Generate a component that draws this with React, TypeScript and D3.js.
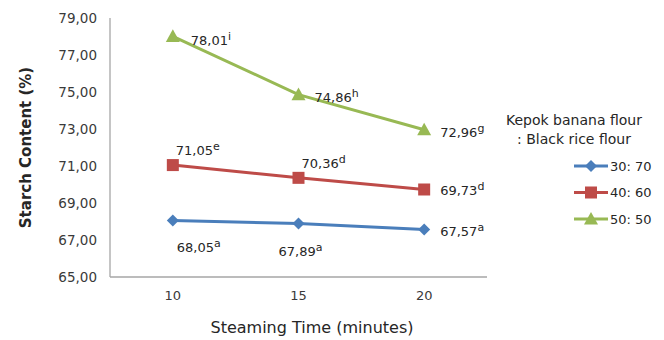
import React from "react";
import * as d3 from "d3";

// Steaming time categories (minutes)
const categories = ["10", "15", "20"];

// Starch content (%) per flour ratio
const ratio3070 = [68.05, 67.89, 67.57];
const ratio4060 = [71.05, 70.36, 69.73];
const ratio5050 = [78.01, 74.86, 72.96];

// Significance letters shown next to each value
const letters3070 = ["a", "a", "a"];
const letters4060 = ["e", "d", "d"];
const letters5050 = ["i", "h", "g"];

const seriesNames = ["30:70", "40:60", "50:50"];
const yTicks = [65, 67, 69, 71, 73, 75, 77, 79];

const W = 664;
const H = 340;
const plot = { left: 110, right: 487, top: 18, bottom: 277 };

const fmt = (v: number) => v.toFixed(2).replace(".", ",");

type Series = {
  name: string;
  values: number[];
  letters: string[];
  color: string;
  marker: "diamond" | "square" | "triangle";
  // label offsets relative to point, per category
  label: [number, number][];
};

const series: Series[] = [
  {
    name: seriesNames[0],
    values: ratio3070,
    letters: letters3070,
    color: "#4A7EBB",
    marker: "diamond",
    label: [[4, 31], [-20, 32], [16, 7]],
  },
  {
    name: seriesNames[1],
    values: ratio4060,
    letters: letters4060,
    color: "#BE4B48",
    marker: "square",
    label: [[3, -10], [3, -10], [16, 6]],
  },
  {
    name: seriesNames[2],
    values: ratio5050,
    letters: letters5050,
    color: "#98B954",
    marker: "triangle",
    label: [[18, 9], [16, 7], [16, 7]],
  },
];

function Marker({ type, x, y, color }: { type: string; x: number; y: number; color: string }) {
  if (type === "diamond") {
    const s = 6;
    return <path d={`M${x},${y - s}L${x + s},${y}L${x},${y + s}L${x - s},${y}Z`} fill={color} />;
  }
  if (type === "square") {
    const s = 6;
    return <rect x={x - s} y={y - s} width={2 * s} height={2 * s} fill={color} />;
  }
  const s = 7;
  return <path d={`M${x},${y - s}L${x + s},${y + s * 0.8}L${x - s},${y + s * 0.8}Z`} fill={color} />;
}

export default function App() {
  const x = d3.scaleBand<string>().domain(categories).range([plot.left, plot.right]);
  const y = d3.scaleLinear().domain([65, 79]).range([plot.bottom, plot.top]);
  const cx = (c: string) => (x(c) ?? 0) + x.bandwidth() / 2;

  const line = d3
    .line<number>()
    .x((_, i) => cx(categories[i]))
    .y((d) => y(d));

  const font = "'DejaVu Sans', Verdana, sans-serif";
  const textColor = "#3a3a3a";

  return (
    <svg
      width={W}
      height={H}
      style={{ position: "absolute", left: 0, top: 0, background: "#fff" }}
      fontFamily={font}
    >
      {/* axes */}
      <line x1={plot.left} x2={plot.left} y1={plot.top} y2={plot.bottom} stroke="#a6a6a6" strokeWidth={1.3} />
      <line x1={plot.left} x2={plot.right} y1={plot.bottom} y2={plot.bottom} stroke="#a6a6a6" strokeWidth={1.3} />

      {yTicks.map((t) => (
        <text key={t} x={97} y={y(t)} dy="0.35em" textAnchor="end" fontSize={13.5} fill={textColor}>
          {fmt(t)}
        </text>
      ))}
      {categories.map((c) => (
        <text key={c} x={cx(c)} y={300} textAnchor="middle" fontSize={13} fill={textColor}>
          {c}
        </text>
      ))}

      <text
        transform={`translate(31,${(plot.top + plot.bottom) / 2}) rotate(-90)`}
        textAnchor="middle"
        fontSize={15}
        fontWeight="bold"
        fill="#262626"
      >
        Starch Content (%)
      </text>
      <text x={312} y={333} textAnchor="middle" fontSize={16} fill="#262626">
        Steaming Time (minutes)
      </text>

      {/* series lines, markers and value labels */}
      {series.map((s) => (
        <g key={s.name}>
          <path d={line(s.values) ?? ""} fill="none" stroke={s.color} strokeWidth={3} />
          {s.values.map((v, i) => (
            <Marker key={i} type={s.marker} x={cx(categories[i])} y={y(v)} color={s.color} />
          ))}
          {s.values.map((v, i) => (
            <text
              key={"l" + i}
              x={cx(categories[i]) + s.label[i][0]}
              y={y(v) + s.label[i][1]}
              fontSize={13}
              fill="#262626"
            >
              {fmt(v)}
              <tspan fontSize={11} dy={-5}>
                {s.letters[i]}
              </tspan>
            </text>
          ))}
        </g>
      ))}

      {/* legend */}
      <text x={574} y={125} textAnchor="middle" fontSize={14} fill="#262626">
        Kepok banana flour
      </text>
      <text x={574} y={144} textAnchor="middle" fontSize={14} fill="#262626">
        : Black rice flour
      </text>
      {series.map((s, i) => {
        const ly = 166 + i * 26.5;
        return (
          <g key={"lg" + s.name}>
            <line x1={574} x2={608} y1={ly} y2={ly} stroke={s.color} strokeWidth={3} />
            <Marker type={s.marker} x={591} y={ly} color={s.color} />
            <text x={610} y={ly} dy="0.35em" fontSize={13} fill="#262626">
              {s.name.replace(":", ": ")}
            </text>
          </g>
        );
      })}
    </svg>
  );
}
